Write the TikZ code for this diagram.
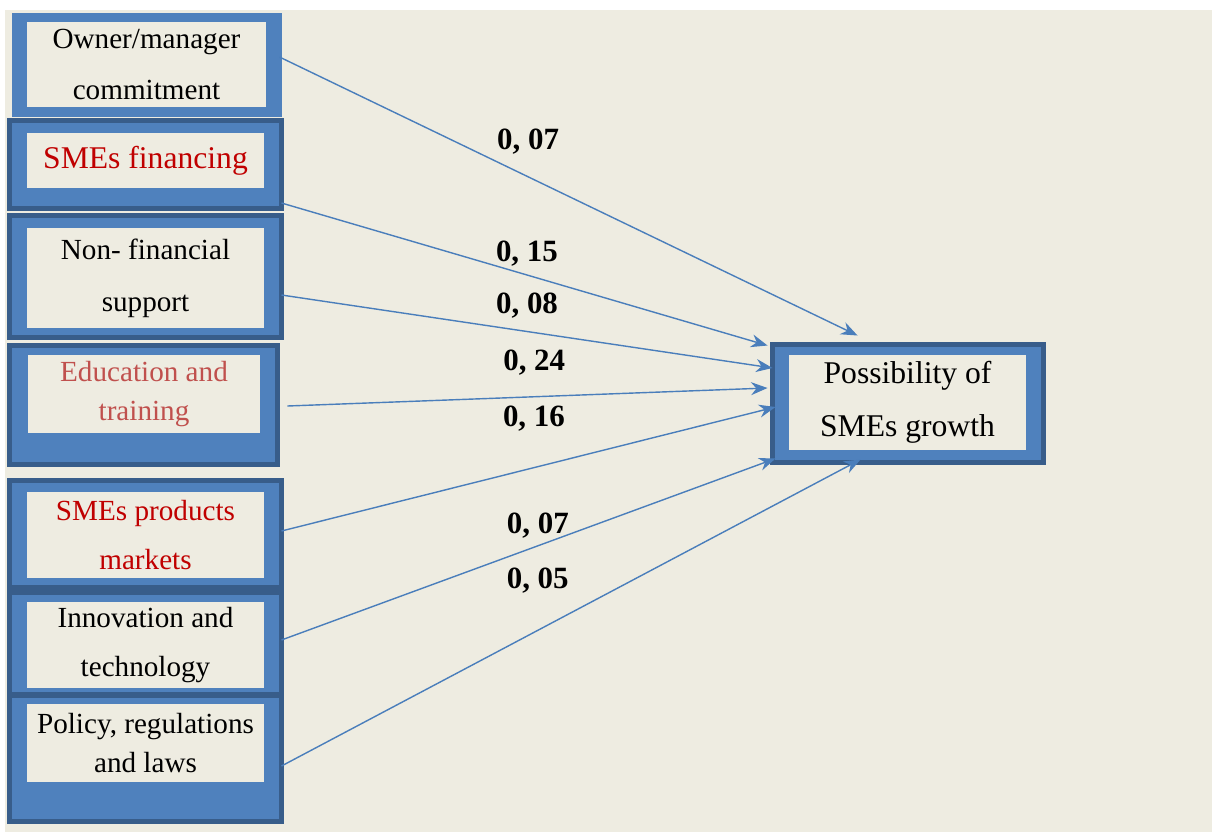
\documentclass[tikz,border=0pt]{standalone}
\usepackage{fontspec}
\setmainfont{Liberation Serif}
\usetikzlibrary{arrows.meta, positioning, calc}
\definecolor{paper}{HTML}{EEECE1}
\definecolor{boxblue}{HTML}{4F81BD}
\definecolor{edgeblue}{HTML}{385D8A}
\definecolor{lineblue}{HTML}{4A7EBB}
\definecolor{darkred}{HTML}{C00000}
\definecolor{softred}{HTML}{C0504D}

\begin{document}
\begin{tikzpicture}[x=0.02cm, y=-0.02cm,
    frame/.style={rectangle, draw=edgeblue, line width=0.1cm, fill=boxblue, outer sep=0pt, inner sep=0pt, minimum width=5.44cm},
    card/.style={rectangle, fill=paper, align=center, inner sep=0pt, minimum width=4.74cm, font=\fontsize{16.6}{29.5}\selectfont},
    arrow/.style={-{Stealth[length=0.33cm, width=0.26cm]}, draw=lineblue, line width=0.8pt},
    coef/.style={font=\fontsize{17.6}{20}\selectfont\bfseries}
]

\useasboundingbox (0,0) rectangle (1212,832);
\fill[paper] (5,10) rectangle (1212,832);

% factors
\node[frame, draw=boxblue, minimum width=5.3cm, minimum height=1.98cm] (f1) at (147,65) {};
\node[card, minimum width=4.78cm, minimum height=1.7cm] (c1) at (146.5,64.5) {Owner/manager\\commitment};

\node[frame, minimum height=1.76cm] (f2) at (145.5,164.5) {};
\node[card, minimum height=1.1cm, text=darkred, font=\fontsize{18}{22}\selectfont] (c2) at (145.5,160.5) {\raisebox{0.08cm}{SMEs financing}};

\node[frame, minimum height=2.44cm] (f3) at (145.5,276.5) {};
\node[card, minimum height=2cm] (c3) at (145.5,278) {Non- financial\\support};

\node[frame, minimum width=5.36cm, minimum height=2.38cm] (f4) at (143.5,405) {};
\node[card, minimum width=4.64cm, minimum height=1.56cm, text=softred, font=\fontsize{16.6}{22}\selectfont] (c4) at (144,394) {Education and\\training};

\node[frame, minimum height=2.14cm] (f5) at (145.5,534) {};
\node[card, minimum height=1.72cm, text=darkred, font=\fontsize{16.6}{28}\selectfont] (c5) at (145.5,535) {SMEs products\\markets};

\node[frame, minimum height=2.04cm] (f6) at (145.5,643.5) {};
\node[card, minimum height=1.72cm, font=\fontsize{16.6}{28}\selectfont] (c6) at (145.5,645) {Innovation and\\technology};

\node[frame, minimum height=2.52cm] (f7) at (145.5,758.5) {};
\node[card, minimum height=1.56cm, font=\fontsize{16.6}{22}\selectfont] (c7) at (145.5,743) {Policy, regulations\\and laws};

% outcome
\node[frame, minimum width=5.42cm, minimum height=2.36cm] (goal) at (908,403.5) {};
\node[card, minimum height=1.9cm, font=\fontsize{18}{31}\selectfont] (cg) at (907.5,402.5) {\raisebox{-0.08cm}{Possibility of}\\\raisebox{-0.06cm}{SMEs growth}};

% paths with coefficients
\draw[arrow] ($(f1.east)+(0,-8)$) -- node[coef, pos=0.43, yshift=0.70cm] {0, 07} ($(goal.north west)+(85,-9)$);
\draw[arrow] ($(f2.east)+(0,38.5)$) -- node[coef, pos=0.505, yshift=0.43cm] {0, 15} ($(goal.north west)+(-5,1)$);
\draw[arrow] ($(f3.east)+(0,18.5)$) -- node[coef, pos=0.5, yshift=0.51cm] {0, 08} ($(goal.west)+(0,-35.5)$);
\draw[arrow] ($(f4.east)+(10,1)$) -- node[coef, pos=0.514, yshift=0.69cm] {0, 24} ($(goal.west)+(-5,-15.5)$);
\draw[arrow] ($(f5.east)+(0,-3)$) -- node[coef, pos=0.511, yshift=0.99cm] {0, 16} ($(goal.west)+(3,3.5)$);
\draw[arrow] ($(f6.east)+(0,-3.5)$) -- node[coef, pos=0.519, yshift=0.40cm] {0, 07} ($(goal.south west)+(3,-4)$);
\draw[arrow] ($(f7.east)+(0,7.5)$) -- node[coef, pos=0.4425, yshift=0.99cm] {0, 05} ($(goal.south west)+(88,-3)$);

\end{tikzpicture}
\end{document}
